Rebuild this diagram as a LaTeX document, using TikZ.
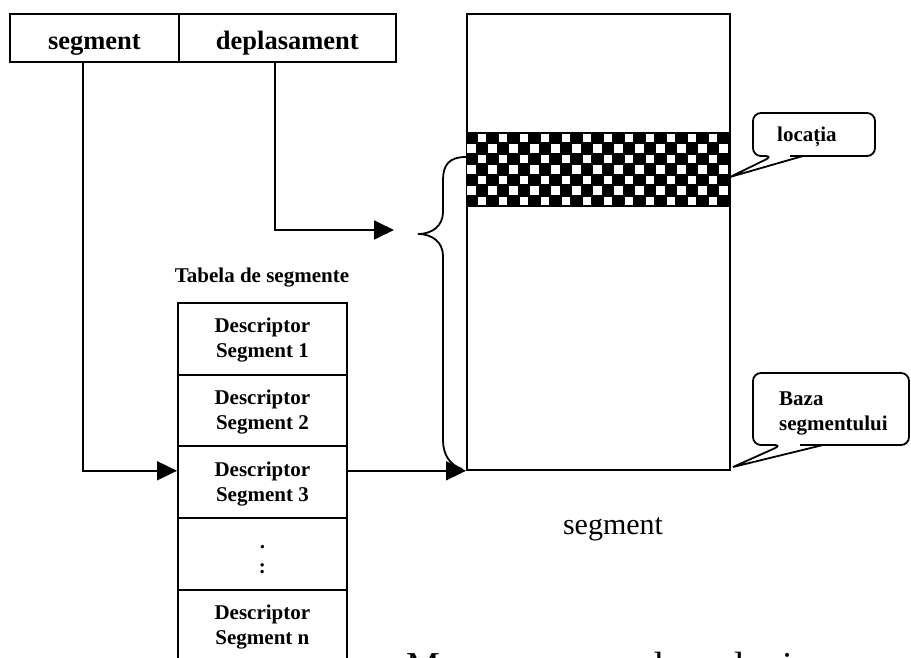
\documentclass[tikz,border=0pt]{standalone}
\usepackage{fontspec}
\setmainfont{Liberation Serif}
\usetikzlibrary{arrows.meta,calc}

\tikzset{
  cell/.style={draw, line width=1.8pt, inner sep=0pt, anchor=north west},
  hdrcell/.style={cell, minimum height=48pt, text height=36pt, text depth=12pt,
    font=\fontsize{26.5}{30}\selectfont\bfseries},
  desc/.style={cell, minimum width=169pt, minimum height=71.7pt, align=center,
    text height=55pt, text depth=16.7pt, font=\fontsize{21}{25}\selectfont\bfseries},
  conn/.style={line width=1.8pt, -{Triangle[length=20pt,width=19pt]}},
  bubble/.style={line width=1.8pt},
  btext/.style={font=\fontsize{21}{25}\selectfont\bfseries, anchor=base west, inner sep=0pt, align=left}
}

\begin{document}
\begin{tikzpicture}[x=1pt,y=-1pt]
\clip (0,0) rectangle (911,658);
\fill[white] (0,0) rectangle (911,658);

% logical address: segment | offset
\node[hdrcell, minimum width=169pt] (seg) at (9,13) {segment};
\node[hdrcell, minimum width=217pt] (dep) at (178,13) {deplasament};

% the segment in memory
\node[cell, minimum width=263pt, minimum height=456pt] (mem) at (466,13) {};

% addressed location: checkered band
\begin{scope}
  \clip (466,133) rectangle (729,206);
  \fill[black] (466,133) rectangle (729,206);
  \foreach \i in {0,...,24}{
    \foreach \j in {0,...,6}{
      \pgfmathtruncatemacro{\oddcell}{mod(\i+\j,2)}
      \ifnum\oddcell=1
        \fill[white] ({466+\i*10.52+1},{133+\j*10.43+1}) rectangle ++(8.5,8.4);
      \fi
    }
  }
\end{scope}
\draw[line width=1.8pt] (466,133) -- (729,133) (466,206) -- (729,206);

% segment table
\node[font=\fontsize{21}{25}\selectfont\bfseries, anchor=base] (ttl) at (262,282) {Tabela de segmente};
\node[desc] (r1) at (177,302)   {Descriptor\\Segment 1};
\node[desc] (r2) at (177,373.7) {Descriptor\\Segment 2};
\node[desc] (r3) at (177,445.4) {Descriptor\\Segment 3};
\node[desc] (r4) at (177,517.1) {.\\:};
\node[desc] (rn) at (177,588.8) {Descriptor\\Segment n};

% connectors (all at the height of the segment base)
\coordinate (dtip) at (394,230);
\draw[conn] ($(seg.south)+(-11.5,0)$) |- (r3.west |- mem.south west);
\draw[conn] ($(dep.south)+(-12.5,0)$) |- (dtip);
\draw[conn] (r3.east |- mem.south west) -- (mem.south west);

% brace from the segment base up to the location
\draw[line width=1.8pt] (466,157) .. controls (449,157) and (443,165) .. (443,180)
  -- (443,212) .. controls (443,226) and (432,234) .. (418,234)
  .. controls (432,234) and (443,242) .. (443,256)
  -- (443,440) .. controls (443,455) and (450,465) .. (462,469);

% callout: location
\draw[bubble, rounded corners=8pt] (790,156) -- (875,156) -- (875,113) -- (753,113)
  -- (753,156) -- (773,156) [sharp corners] -- (730,177) -- (803,156) -- cycle;
\node[btext] (loc) at (777,142) {locația};

% callout: segment base
\draw[bubble, rounded corners=8pt] (800,445) -- (909,445) -- (909,373) -- (753,373)
  -- (753,445) -- (782,445) [sharp corners] -- (733,467) -- (823,445) -- cycle;
\node[btext] (baza) at (779,430) {Baza\\segmentului};

% labels
\node[font=\fontsize{30}{34}\selectfont, anchor=base] (segl) at (613,534) {segment};
\node[font=\fontsize{38}{42}\selectfont, anchor=base west, inner sep=0pt] (cap) at (406,678) {Maparea unor adrese logice};
\end{tikzpicture}
\end{document}
